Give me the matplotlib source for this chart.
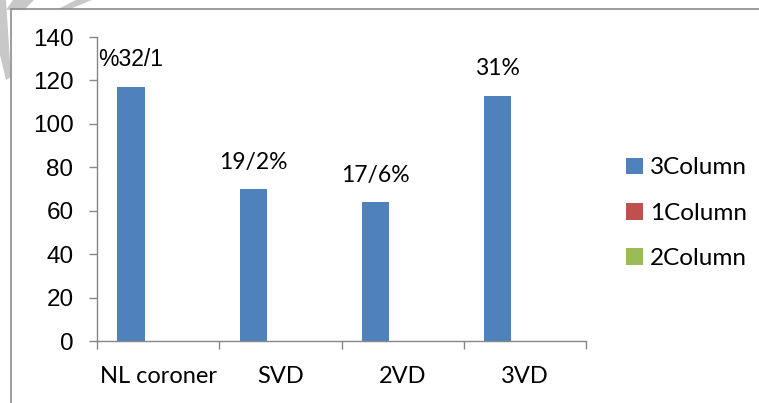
import matplotlib
matplotlib.use("Agg")
import matplotlib.pyplot as plt
import numpy as np
from matplotlib.patches import Rectangle, Polygon

categories = ["NL coroner", "SVD", "2VD", "3VD"]
series_names = ["3Column", "1Column", "2Column"]
col3 = [117, 70, 64, 113]
col1 = [0, 0, 0, 0]
col2 = [0, 0, 0, 0]
bar_labels = ["%32/1", "19/2%", "17/6%", "31%"]
yticks = [0, 20, 40, 60, 80, 100, 120, 140]

colors = ["#4F81BD", "#C0504D", "#9BBB59"]

W, H = 759, 403
fig = plt.figure(figsize=(W/100, H/100), dpi=100)
fig.patch.set_facecolor("white")


def px(pts):
    return [(a / W, 1 - b / H) for a, b in pts]


# watermark fragments top-left
for poly in ([(0, 0), (6, 0), (11, 77), (6, 80), (0, 55)],
             [(13, 0), (34, 0), (24, 10), (6, 10)],
             [(76, 0), (92, 0), (70, 9), (58, 9)]):
    fig.patches.append(Polygon(px(poly), closed=True, transform=fig.transFigure,
                               facecolor="#C8C8C8", edgecolor="none", zorder=0))

# outer chart frame
fig.patches.append(Rectangle((11/W, -0.1), 1.2, (H-9)/H + 0.1,
                             transform=fig.transFigure, fill=False,
                             edgecolor="#8C8C8C", linewidth=1.2, zorder=1))

ax = fig.add_axes([97/W, 62/H, 489/W, 304/H])
ax.patch.set_alpha(0)
x = np.arange(len(categories))
w = 1/4.5
series = [col3, col1, col2]
bars = []
for k, (vals, name, c) in enumerate(zip(series, series_names, colors)):
    b = ax.bar(x + (k-1)*w, vals, width=w, color=c, label=name, edgecolor="none")
    bars.append(b)

label_fonts = ["Liberation Sans", "Lato", "Lato", "Lato"]
for i, (v, t) in enumerate(zip(col3, bar_labels)):
    ax.annotate(t, (x[i]-w, v), xytext=(0, 27), textcoords="offset pixels",
                ha="center", va="center", fontsize=16.5,
                family=label_fonts[i], color="black")

ax.set_xlim(-0.5, len(categories)-0.5)
ax.set_ylim(0, 140)
ax.set_yticks(yticks)
ax.set_yticklabels([str(v) for v in yticks], fontsize=17.5, family="Liberation Sans")
ax.set_xticks(np.arange(len(categories)+1) - 0.5)
ax.set_xticklabels([])
ax.set_xticks(x, minor=True)
ax.set_xticklabels(categories, minor=True, fontsize=17, family="Lato")
ax.tick_params(axis="x", which="major", direction="out", length=6, color="#868686", width=1)
ax.tick_params(axis="x", which="minor", length=0, pad=18)
ax.tick_params(axis="y", direction="out", length=6, color="#868686", width=1, pad=11)
for s in ["top", "right"]:
    ax.spines[s].set_visible(False)
for s in ["left", "bottom"]:
    ax.spines[s].set_color("#868686")
    ax.spines[s].set_linewidth(1)

leg = fig.legend(handles=bars, labels=series_names, loc="upper left",
                 bbox_to_anchor=(607/W, 1-138/H), frameon=False,
                 prop={"family": "Lato", "size": 17.5}, handlelength=0.68,
                 handleheight=0.68, handletextpad=0.3, labelspacing=1.0,
                 borderpad=0.3)

fig.savefig("out.png", dpi=100)
